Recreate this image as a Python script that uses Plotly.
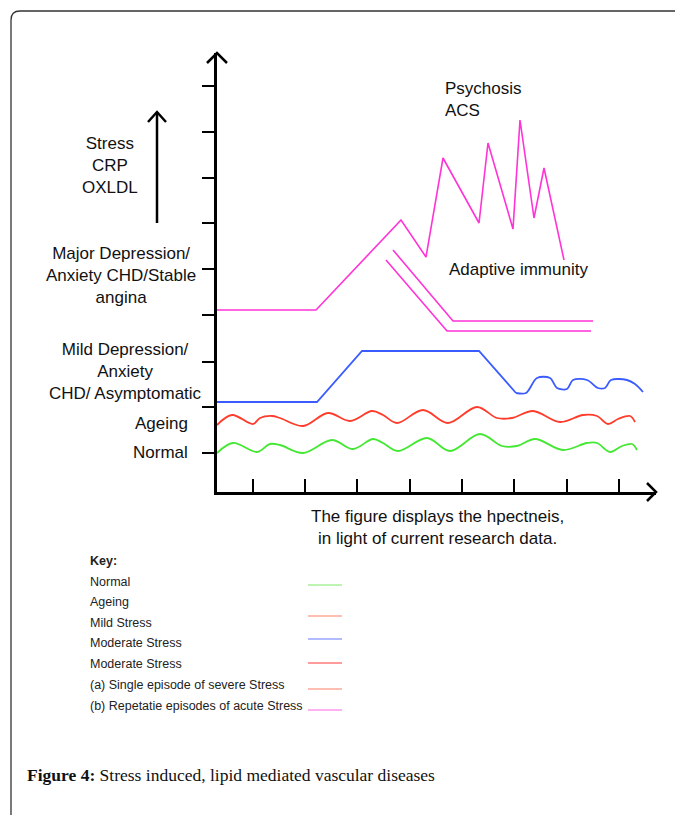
import plotly.graph_objects as go

# ---------------- data (axis units, 0..439 on both axes) ----------------
x_ticks = [36, 88, 140, 193, 245, 297, 350, 402]
y_ticks = [39, 85, 130, 177, 223, 269, 314, 360, 406]

pink_x = [0, 99, 184, 209, 226, 262, 271, 296, 303, 317, 327, 347]
pink_y = [182, 182, 272, 235, 334, 269, 349, 263, 372, 274, 324, 232]

pinkA_x = [176, 236, 376]
pinkA_y = [242, 171, 171]
pinkB_x = [169, 230, 374]
pinkB_y = [232, 161, 161]

blue_x = [0, 100, 145, 262, 299]
blue_y = [90, 90, 141, 141, 99]
blue_tail_x = [299, 309, 320, 333, 340, 350, 356, 370, 381, 388, 394, 410, 418, 426]
blue_tail_y = [99, 99, 114, 114, 104, 103, 112, 112, 104, 104, 112, 112, 108, 100]

red_x = [0, 15, 36, 43, 55, 63, 86, 111, 133, 155, 166, 180, 206, 231, 260, 280, 295,
         316, 343, 366, 380, 391, 401, 413, 418]
red_y = [67, 77, 68, 74, 76, 74, 66, 79, 71, 81, 77, 69, 82, 69, 85, 74, 74,
         81, 70, 77, 76, 68, 73, 76, 70]

green_x = [0, 16, 40, 53, 63, 86, 115, 136, 156, 166, 181, 210, 233, 263, 285, 300,
           318, 346, 370, 380, 393, 405, 415, 420]
green_y = [39, 49, 40, 48, 47, 39, 52, 43, 53, 49, 41, 54, 41, 58, 46, 46,
           53, 42, 49, 49, 40, 46, 48, 42]

key_labels = ["Normal", "Ageing", "Mild Stress", "Moderate Stress", "Moderate Stress",
              "(a) Single episode of severe Stress", "(b) Repetatie episodes of acute Stress"]
key_colors = ["#a8f098", None, "#ffa898", "#98a4ff", "#ff7a7a", "#ffa898", "#ff98ee"]

PINK = "#ff33d6"
BLUE = "#3a5cff"
RED = "#ff3b2b"
GREEN = "#44e833"

# ---------------- figure geometry ----------------
OFF = 8                      # page body margin of the browser
W, H = 683 - OFF, 815 - OFF
L, R, T, B = 217, 656, 53, 492   # plot area in page pixels
PW, PH = R - L, B - T


def P(px, py):
    """page pixel -> paper coordinates"""
    return (px - L) / PW, (B - py) / PH


fig = go.Figure()

fig.add_trace(go.Scatter(x=green_x, y=green_y, mode="lines",
                         line=dict(color=GREEN, width=1.8, shape="spline", smoothing=1.0)))
fig.add_trace(go.Scatter(x=red_x, y=red_y, mode="lines",
                         line=dict(color=RED, width=1.8, shape="spline", smoothing=1.0)))
fig.add_trace(go.Scatter(x=blue_x, y=blue_y, mode="lines",
                         line=dict(color=BLUE, width=1.8)))
fig.add_trace(go.Scatter(x=blue_tail_x, y=blue_tail_y, mode="lines",
                         line=dict(color=BLUE, width=1.8, shape="spline", smoothing=0.9)))
fig.add_trace(go.Scatter(x=pink_x, y=pink_y, mode="lines",
                         line=dict(color=PINK, width=1.6)))
fig.add_trace(go.Scatter(x=pinkA_x, y=pinkA_y, mode="lines",
                         line=dict(color=PINK, width=1.6)))
fig.add_trace(go.Scatter(x=pinkB_x, y=pinkB_y, mode="lines",
                         line=dict(color=PINK, width=1.6)))

shapes = []


def seg_path(points):
    pts = [P(*p) for p in points]
    d = "M {:.5f},{:.5f}".format(*pts[0])
    for p in pts[1:]:
        d += " L {:.5f},{:.5f}".format(*p)
    return d


# axis arrowheads
shapes.append(dict(type="path", xref="paper", yref="paper",
                   path=seg_path([(207, 63), (217, 53), (227, 63)]),
                   line=dict(color="black", width=2.5)))
shapes.append(dict(type="path", xref="paper", yref="paper",
                   path=seg_path([(647, 483), (656, 492), (647, 501)]),
                   line=dict(color="black", width=2.5)))
# left "increase" arrow
shapes.append(dict(type="path", xref="paper", yref="paper",
                   path=seg_path([(157, 223), (157, 112)]),
                   line=dict(color="black", width=2.5)))
shapes.append(dict(type="path", xref="paper", yref="paper",
                   path=seg_path([(148, 122), (157, 112), (166, 122)]),
                   line=dict(color="black", width=2.5)))
# page frame with rounded top-left corner
fx0, fy0 = P(11, 830)
fx1, fy1 = P(11, 20)
cx, cy = P(11, 11)
ex, ey = P(20, 11)
gx, gy = P(700, 11)
shapes.append(dict(type="path", xref="paper", yref="paper",
                   path=f"M {fx0:.5f},{fy0:.5f} L {fx1:.5f},{fy1:.5f} Q {cx:.5f},{cy:.5f} {ex:.5f},{ey:.5f} L {gx:.5f},{gy:.5f}",
                   line=dict(color="#333333", width=1.3)))

# key sample lines
key_y = [582, 602, 623, 643, 664, 685, 706]
key_line_y = [585, None, 616, 639, 663, 689, 710]
for c, ly in zip(key_colors, key_line_y):
    if c is None:
        continue
    shapes.append(dict(type="path", xref="paper", yref="paper",
                       path=seg_path([(308, ly), (342, ly)]),
                       line=dict(color=c, width=1.4)))

annotations = []
SANS = "Liberation Sans, Arial, sans-serif"


def txt(text, px, py, size=17, xanchor="center", family=SANS, color="#111111", align="center"):
    x, y = P(px, py)
    annotations.append(dict(text=text, x=x, y=y, xref="paper", yref="paper",
                            xanchor=xanchor, yanchor="middle", showarrow=False, align=align,
                            font=dict(family=family, size=size, color=color)))


txt("Stress<br>CRP<br>OXLDL", 110, 165)
txt("Major Depression/<br>Anxiety CHD/Stable<br>angina", 121, 275)
txt("Mild Depression/<br>Anxiety<br>CHD/ Asymptomatic", 125, 371)
txt("Ageing", 190, 424, xanchor="right")
txt("Normal", 190, 452, xanchor="right")
txt("Psychosis<br>ACS", 443, 99, xanchor="left", align="left")
txt("Adaptive immunity", 447, 269, xanchor="left")
txt("The figure displays the hpectneis,<br>in light of current research data.", 437, 527)

txt("<b>Key:</b>", 88, 561, size=12.5, xanchor="left", color="#222222")
for lab, ky in zip(key_labels, key_y):
    txt(lab, 88, ky, size=12.5, xanchor="left", color="#222222")

txt("<b>Figure 4:</b> Stress induced, lipid mediated vascular diseases", 25, 775,
    size=17.5, xanchor="left", family="Liberation Serif, Times New Roman, serif", color="#111111")

fig.update_layout(
    width=W, height=H,
    margin=dict(l=L - OFF, r=683 - R, t=T - OFF, b=815 - B, pad=0),
    paper_bgcolor="white", plot_bgcolor="white",
    showlegend=False,
    shapes=shapes,
    annotations=annotations,
    xaxis=dict(range=[0, PW], showgrid=False, zeroline=False, showline=True,
               linecolor="black", linewidth=2.5, ticks="inside", ticklen=13,
               tickwidth=2, tickcolor="black", tickvals=x_ticks,
               showticklabels=False, fixedrange=True),
    yaxis=dict(range=[0, PH], showgrid=False, zeroline=False, showline=True,
               linecolor="black", linewidth=2.5, ticks="outside", ticklen=12,
               tickwidth=2, tickcolor="black", tickvals=y_ticks,
               showticklabels=False, fixedrange=True),
)

fig.write_html("out.html")
